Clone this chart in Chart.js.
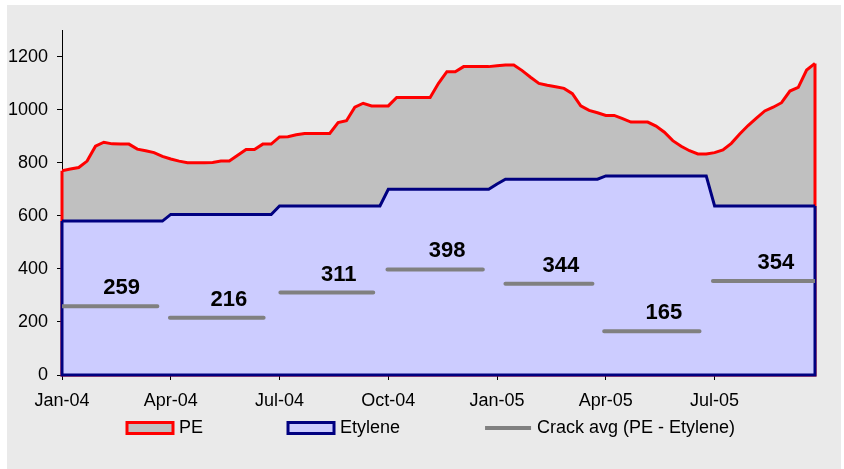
<!DOCTYPE html>
<html>
<head>
<meta charset="utf-8">
<script src="https://cdn.jsdelivr.net/npm/chart.js@4/dist/chart.umd.min.js"></script>
<style>
html,body{margin:0;padding:0;background:#fff;}
#wrap{width:844px;height:469px;}
</style>
</head>
<body>
<div id="wrap"><canvas id="crackChart" width="844" height="469"></canvas></div>
<script>
// quarterly axis labels, one every 13 weeks
const tickLabels = ['Jan-04', 'Apr-04', 'Jul-04', 'Oct-04', 'Jan-05', 'Apr-05', 'Jul-05'];

// weekly prices, Jan-04 .. end Sep-05
const pe = [
770, 776, 782, 806, 862, 877, 871, 870, 870, 851,
845, 838, 824, 814, 806, 800, 800, 800, 801, 806,
806, 828, 850, 850, 870, 870, 897, 898, 905, 910,
910, 910, 910, 951, 958, 1009, 1024, 1014, 1014, 1014,
1046, 1046, 1046, 1046, 1046, 1099, 1143, 1143, 1162, 1162,
1162, 1162, 1165, 1168, 1168, 1147, 1122, 1099, 1092, 1086,
1080, 1060, 1014, 997, 988, 978, 978, 966, 953, 953,
953, 938, 915, 883, 862, 845, 833, 833, 838, 848,
873, 908, 940, 968, 995, 1009, 1026, 1070, 1084, 1149,
1174
];
const etylene = [
580, 580, 580, 580, 580, 580, 580, 580, 580, 580, 580, 580, 580,
605, 605, 605, 605, 605, 605, 605, 605, 605, 605, 605, 605, 605,
637, 637, 637, 637, 637, 637, 637, 637, 637, 637, 637, 637, 637,
700, 700, 700, 700, 700, 700, 700, 700, 700, 700, 700, 700, 700,
720,
738, 738, 738, 738, 738, 738, 738, 738, 738, 738, 738, 738,
750, 750, 750, 750, 750, 750, 750, 750, 750, 750, 750, 750, 750,
637, 637, 637, 637, 637, 637, 637, 637, 637, 637, 637, 637, 637
];

// quarterly crack averages (PE - Etylene) and the week span of each bar
const crackAvg = [259, 216, 311, 398, 344, 165, 354];
const crackStart = [0, 12.9, 26.1, 38.9, 53, 64.8, 77.8];
const crackEnd = [11.4, 24.1, 37.2, 50.3, 63.4, 76.2, 90];

const FONT = "'Liberation Sans', Arial, sans-serif";
Chart.defaults.font.family = FONT;
Chart.defaults.font.size = 18;
Chart.defaults.color = '#000';

const crackData = [];
crackAvg.forEach((v, q) => {
  crackData.push({x: crackStart[q], y: v}, {x: crackEnd[q], y: v}, {x: crackEnd[q] + 0.3, y: null});
});

// gray panel behind everything
const panelBg = {
  id: 'panelBg',
  beforeDraw(chart) {
    const c = chart.ctx;
    c.save();
    c.fillStyle = '#EAEAEA';
    c.fillRect(7, 5, 834, 464);
    c.restore();
  }
};

// excel-style area outline: close the polygon down to zero
const areaEdges = {
  id: 'areaEdges',
  afterDatasetDraw(chart, args) {
    const ds = chart.data.datasets[args.index];
    if (!ds.fill) return;
    const pts = args.meta.data;
    const y0 = chart.scales.y.getPixelForValue(0);
    const first = pts[0], last = pts[pts.length - 1];
    const c = chart.ctx;
    c.save();
    c.strokeStyle = ds.borderColor;
    c.lineWidth = ds.borderWidth;
    c.lineJoin = 'miter';
    c.beginPath();
    c.moveTo(first.x, first.y);
    c.lineTo(first.x, y0);
    c.lineTo(last.x, y0);
    c.lineTo(last.x, last.y);
    c.stroke();
    c.restore();
  }
};

// value labels above each crack bar
const crackLabels = {
  id: 'crackLabels',
  afterDatasetsDraw(chart) {
    const c = chart.ctx;
    const xs = chart.scales.x, ys = chart.scales.y;
    c.save();
    c.font = 'bold 22px ' + FONT;
    c.fillStyle = '#000';
    c.textAlign = 'center';
    c.textBaseline = 'middle';
    crackAvg.forEach((v, q) => {
      const x = xs.getPixelForValue((crackStart[q] + crackEnd[q]) / 2) + 12;
      const y = ys.getPixelForValue(v) - 18;
      c.fillText(String(v), x, y);
    });
    c.restore();
  }
};

// legend row under the axis
const bottomLegend = {
  id: 'bottomLegend',
  afterDraw(chart) {
    const c = chart.ctx;
    const y = chart.chartArea.bottom + 53;
    let x = 127;
    c.save();
    c.font = '18px ' + FONT;
    c.textBaseline = 'middle';
    c.fillStyle = '#000';
    chart.data.datasets.forEach(ds => {
      if (ds.fill) {
        c.fillStyle = ds.backgroundColor;
        c.fillRect(x, y - 5.5, 46, 11);
        c.strokeStyle = ds.borderColor;
        c.lineWidth = 3;
        c.strokeRect(x, y - 5.5, 46, 11);
      } else {
        c.strokeStyle = ds.borderColor;
        c.lineWidth = 4;
        c.beginPath();
        c.moveTo(x, y);
        c.lineTo(x + 46, y);
        c.stroke();
      }
      c.fillStyle = '#000';
      c.fillText(ds.label, x + 52, y);
      x += 52 + c.measureText(ds.label).width + 85;
    });
    c.restore();
  }
};

new Chart(document.getElementById('crackChart'), {
  type: 'line',
  data: {
    datasets: [
      {
        label: 'PE',
        data: pe.map((v, i) => ({x: i, y: v})),
        borderColor: '#FF0000',
        backgroundColor: '#C0C0C0',
        borderWidth: 3,
        fill: 'origin',
        pointRadius: 0,
        tension: 0,
        order: 3
      },
      {
        label: 'Etylene',
        data: etylene.map((v, i) => ({x: i, y: v})),
        borderColor: '#000080',
        backgroundColor: '#CCCCFF',
        borderWidth: 3,
        fill: 'origin',
        pointRadius: 0,
        tension: 0,
        order: 2
      },
      {
        label: 'Crack avg (PE - Etylene)',
        data: crackData,
        borderColor: '#808080',
        borderWidth: 4,
        borderCapStyle: 'round',
        fill: false,
        pointRadius: 0,
        spanGaps: false,
        order: 1
      }
    ]
  },
  options: {
    responsive: false,
    animation: false,
    devicePixelRatio: 1,
    layout: {padding: {top: 30, right: 29, left: 0, bottom: 0}},
    plugins: {
      legend: {display: false},
      tooltip: {enabled: false}
    },
    scales: {
      x: {
        type: 'linear',
        min: 0,
        max: 90,
        grid: {drawOnChartArea: false, drawTicks: true, tickLength: 5, color: '#000'},
        border: {color: '#000', width: 1},
        ticks: {
          stepSize: 13,
          includeBounds: false,
          autoSkip: false,
          maxRotation: 0,
          padding: 10,
          callback: v => tickLabels[v / 13]
        },
        afterFit: s => { s.height = 94; }
      },
      y: {
        min: 0,
        max: 1300,
        grid: {drawOnChartArea: false, drawTicks: true, tickLength: 5, color: '#000'},
        border: {color: '#000', width: 1},
        ticks: {stepSize: 200, includeBounds: false, padding: 9, callback: v => String(v)},
        afterFit: s => { s.width = 62; }
      }
    }
  },
  plugins: [panelBg, areaEdges, crackLabels, bottomLegend]
});
</script>
</body>
</html>
